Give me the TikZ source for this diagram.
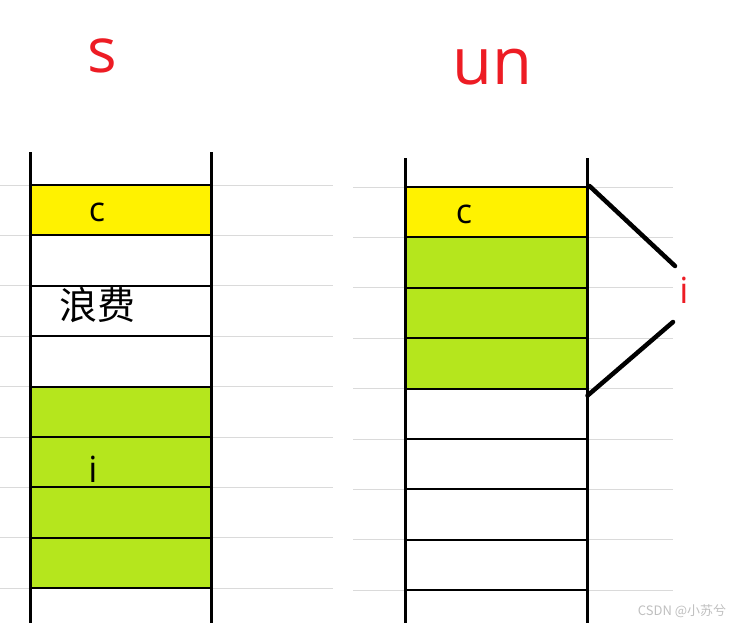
\documentclass[tikz,border=0pt]{standalone}
\usepackage{fontspec}
\setmainfont{Open Sans}
\newfontfamily\cjk{Noto Sans CJK SC}
\definecolor{yel}{HTML}{FFF200}
\definecolor{leaf}{HTML}{B5E61D}
\definecolor{pred}{HTML}{ED1C24}
\definecolor{lightrule}{HTML}{DADADA}
\tikzset{cell/.style={rectangle,draw=black,line width=2pt,minimum width=181pt,minimum height=50.4pt,inner sep=0pt}}
\tikzset{t/.style={inner sep=0pt,font=\fontsize{34}{34}\selectfont}}
\tikzset{title/.style={inner sep=0pt,text=pred,font=\fontsize{62}{62}\selectfont}}
\tikzset{wall/.style={line width=3pt}}
\tikzset{brace/.style={line width=4.5pt,line cap=round}}
\begin{document}
\begin{tikzpicture}[x=1pt,y=-1pt]
  \useasboundingbox (0,0) rectangle (736,623);
  % faint ruling
  \foreach \k in {0,...,8} {
    \draw[lightrule,line width=1pt] (0,{185+50.4*\k}) -- (333,{185+50.4*\k});
    \draw[lightrule,line width=1pt] (353,{187+50.4*\k}) -- (673,{187+50.4*\k});
  }
  % left stack
  \foreach \k/\c in {0/yel,1/white,2/white,3/white,4/leaf,5/leaf,6/leaf,7/leaf}
    \node[cell,fill=\c] (s\k) at (120.5,{210.2+50.4*\k}) {};
  \draw[wall] (30,152) -- (30,623);
  \draw[wall] (211,152) -- (211,623);
  % right stack
  \foreach \k/\c in {0/yel,1/leaf,2/leaf,3/leaf,4/white,5/white,6/white,7/white}
    \node[cell,fill=\c] (u\k) at (496,{212.2+50.4*\k}) {};
  \draw[wall] (405,158) -- (405,623);
  \draw[wall] (587,158) -- (587,623);
  % labels
  \node[title] (s) at (102,56) {s};
  \node[title,font=\fontsize{65}{65}\selectfont] (un) at (492,67) {un};
  \node[t] (c1) at (97,212) {c};
  \node[t,font=\cjk\fontsize{38}{38}\selectfont] (waste) at (97,305) {浪费};
  \node[t,font=\fontsize{36}{36}\selectfont] (i1) at (93,469) {i};
  \node[t] (c2) at (464,214) {c};
  \node[t,text=pred,font=\fontsize{36}{36}\selectfont] (i2) at (684,290) {i};
  \coordinate (b1) at (675,266);
  \coordinate (b2) at (673,322);
  \draw[brace] ([xshift=2pt]u0.north east) -- (b1);
  \draw[brace] ([yshift=-6pt]u3.south east) -- (b2);
  \node[font=\cjk\fontsize{13}{13}\selectfont,text=black!25] (mark) at (682,611) {CSDN @小苏兮};
\end{tikzpicture}
\end{document}
